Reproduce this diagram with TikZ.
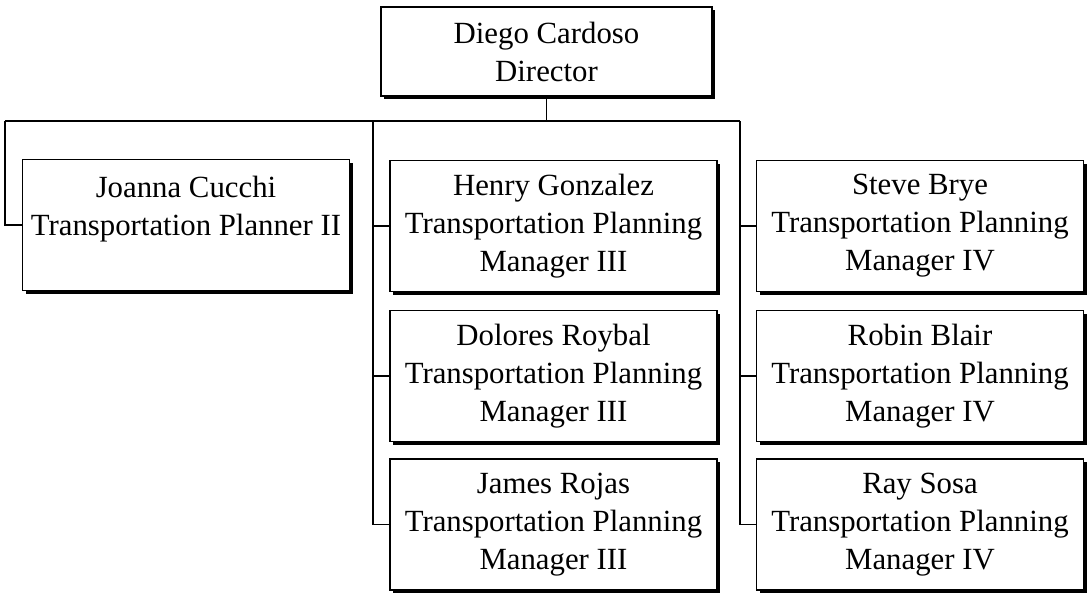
\documentclass[tikz,border=0pt]{standalone}
\usepackage{fontspec}
\setmainfont{Liberation Serif}
\usetikzlibrary{shadows}

\begin{document}
\begin{tikzpicture}[x=0.5pt, y=-0.5pt,
  post/.style={draw, line width=0.9pt, fill=white, align=center,
    minimum width=163.5pt, minimum height=65.5pt, inner sep=0pt,
    font=\fontsize{15.4pt}{19pt}\selectfont,
    general shadow={fill=black, shadow xshift=1.6pt, shadow yshift=-1.6pt}},
  head/.style={post, minimum width=165.5pt, minimum height=44.5pt},
  link/.style={line width=0.9pt}]
\useasboundingbox (0,0) rectangle (1089,595);

% director
\node[head] (cardoso) at (546.5,51.5) {Diego Cardoso\\Director};

% left column
\node[post] (cucchi) at (186,225) {Joanna Cucchi\\Transportation Planner II\\~};

% middle column
\node[post] (gonzalez) at (553.5,226) {Henry Gonzalez\\Transportation Planning\\Manager III};
\node[post] (roybal) at (553.5,376) {Dolores Roybal\\Transportation Planning\\Manager III};
\node[post] (rojas) at (553.5,524.5) {James Rojas\\Transportation Planning\\Manager III};

% right column
\node[post] (brye) at (920,226) {Steve Brye\\Transportation Planning\\Manager IV};
\node[post] (blair) at (920,376) {Robin Blair\\Transportation Planning\\Manager IV};
\node[post] (sosa) at (920,524.5) {Ray Sosa\\Transportation Planning\\Manager IV};

% bus
\coordinate (busL) at (5,121);
\coordinate (busM) at (373,121);
\coordinate (busR) at (740,121);
\draw[link] (busL) -- (busR);
\draw[link] (cardoso.south) -- (cardoso.south |- busL);

\draw[link] (busL) |- (cucchi.west);
\draw[link] (busM) |- (rojas.west);
\draw[link] (busM |- gonzalez) -- (gonzalez.west);
\draw[link] (busM |- roybal) -- (roybal.west);
\draw[link] (busR) |- (sosa.west);
\draw[link] (busR |- brye) -- (brye.west);
\draw[link] (busR |- blair) -- (blair.west);
\end{tikzpicture}
\end{document}
